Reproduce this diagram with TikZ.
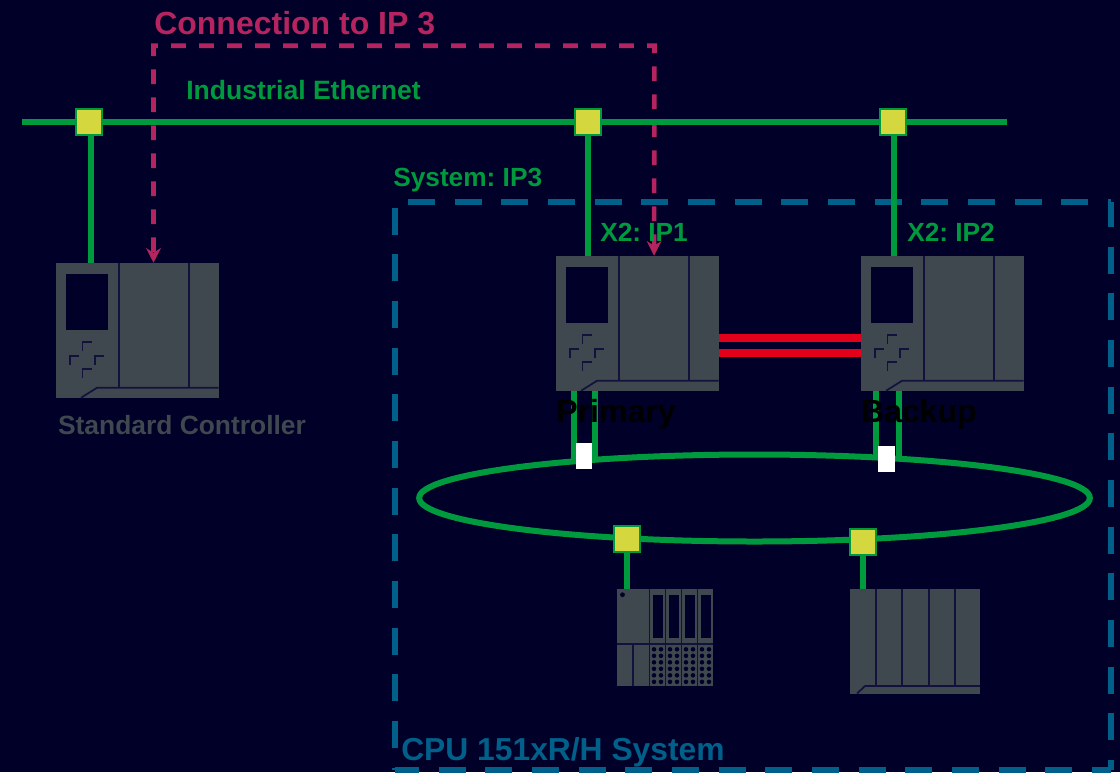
\documentclass[tikz,border=0pt]{standalone}
\usepackage{fontspec}
\setmainfont{Liberation Sans}
\usepackage{xcolor}
\usetikzlibrary{arrows.meta,positioning,shapes.geometric}
\definecolor{bgcol}{HTML}{000028}
\definecolor{buscol}{HTML}{009A3E}
\definecolor{portcol}{HTML}{D5D73F}
\definecolor{devcol}{HTML}{40484F}
\definecolor{linkcol}{HTML}{B5245F}
\definecolor{syscol}{HTML}{00608A}
\definecolor{redcol}{HTML}{E2001A}
\definecolor{seamcol}{HTML}{12123C}
\newcommand{\cpudetail}[1]{%
  \fill[bgcol] ([xshift=8pt,yshift=-8.25pt]#1.north west) rectangle ([xshift=39pt,yshift=-50.25pt]#1.north west);
  \draw[seam] ([xshift=47.25pt]#1.north west) -- ([xshift=47.25pt,yshift=-93.75pt]#1.north west);
  \draw[seam] ([xshift=99.75pt]#1.north west) -- ([xshift=99.75pt,yshift=-93.75pt]#1.north west);
  \draw[seam] ([xshift=122.25pt,yshift=-93.75pt]#1.north west) -- ([xshift=31pt,yshift=-93.75pt]#1.north west) -- ([xshift=19pt,yshift=-101.25pt]#1.north west);
  \foreach \mx/\my in {20/59.25,10.5/69.75,29.25/69.75,20/79.5}
    \draw[seam] ([xshift=\mx pt,yshift=-\my pt-7pt]#1.north west) |- ([xshift=\mx pt+7pt,yshift=-\my pt]#1.north west);
}
\begin{document}
\frenchspacing
\begin{tikzpicture}[x=0.75pt,y=-0.75pt,
  bus/.style={draw=buscol, line width=4.5pt},
  port/.style={draw=buscol, fill=portcol, line width=1.5pt, minimum size=19.5pt, inner sep=0pt},
  device/.style={fill=devcol, inner sep=0pt},
  seam/.style={draw=seamcol, line width=1.3pt},
  link/.style={draw=linkcol, line width=3.4pt, dash pattern=on 11pt off 10pt, dash phase=19.75pt, {Stealth[length=11pt,width=11pt]}-{Stealth[length=11pt,width=11pt]}},
  sysline/.style={draw=syscol, line width=4.5pt, dash pattern=on 20.25pt off 14.75pt},
  sync/.style={draw=redcol, line width=6pt},
  whitebox/.style={fill=white, inner sep=0pt, minimum width=12.5pt, minimum height=19.5pt},
  lbl/.style={font=\bfseries\fontsize{19.7}{24}\selectfont, text=buscol, inner sep=0pt, anchor=west}
]
\useasboundingbox (0,0) rectangle (1120,772);
\fill[bgcol] (0,0) rectangle (1120,772);
% devices
\node[device, minimum width=122.25pt, minimum height=101.25pt] (standard) at (137.5,330.5) {};
\node[device, minimum width=122.25pt, minimum height=101.25pt] (primary) at (637.5,323.5) {};
\node[device, minimum width=122.25pt, minimum height=101.25pt] (backup) at (942.5,323.5) {};
\cpudetail{standard}
\cpudetail{primary}
\cpudetail{backup}
\node[device, minimum width=72pt, minimum height=72.75pt] (iomod) at (665,637.5) {};
\draw[seam] (617,644) -- (713,644);
\draw[seam] (633,644) -- (633,686);
\foreach \sx in {649.5,665.5,681.5,697.5} {
  \draw[seam] (\sx,589) -- (\sx,686);
  \fill[bgcol] (\sx+3,595) rectangle (\sx+13.5,637.5);
  \foreach \dy in {649.3,655.8,662.3,668.8,675.3,681.8} {
    \fill[bgcol] (\sx+4.5,\dy) circle (1.7pt);
    \fill[bgcol] (\sx+11.5,\dy) circle (1.7pt);
  }
}
\fill[bgcol] (622.5,594.7) circle (1.8pt);
\node[device, minimum width=97.5pt, minimum height=78.75pt] (rack) at (915,641.5) {};
\foreach \sx in {875.7,902.3,928.7,955}
  \draw[seam] (\sx,589) -- (\sx,686);
\draw[seam] (980,686) -- (865,686) -- (857,693.5);
% connection
\draw[link] ([xshift=12pt]standard.north) -- ++(0,-217) -- ++(501,0) -- ([xshift=12.4pt]primary.north);
% system frame
\coordinate (tl) at (395,202);
\coordinate (tr) at (1111,202);
\coordinate (bl) at (395,770);
\coordinate (br) at (1111,770);
\draw[sysline, dash phase=25.3pt] (tl) -- (tr);
\draw[sysline, dash phase=1.5pt] (tr) -- (br);
\draw[sysline, dash phase=2.25pt] (bl) -- (br);
\draw[sysline, dash phase=18.5pt] (bl) -- (tl);
% ring and ports
\node[ellipse, draw=buscol, line width=4.5pt, minimum width=503pt, minimum height=65.25pt, inner sep=0pt] (ring) at (754.5,498) {};
\node[port] (sw1) at (89,122) {};
\node[port] (sw2) at (588,122) {};
\node[port] (sw3) at (893,122) {};
\node[port] (sw4) at (627,539) {};
\node[port] (sw5) at (863,542) {};
\coordinate (busl) at (22,122);
\coordinate (busr) at (1007,122);
\draw[bus] (busl) -- (sw1);
\draw[bus] (sw1) -- (sw2);
\draw[bus] (sw2) -- (sw3);
\draw[bus] (sw3) -- (busr);
\draw[bus] ([xshift=1.5pt]sw1.south) -- ([xshift=1.5pt]sw1.south |- standard.north);
\draw[bus] (sw2) -- (sw2 |- primary.north);
\draw[bus] ([xshift=0.75pt]sw3.south) -- ([xshift=0.75pt]sw3.south |- backup.north);
\draw[bus] (sw4) -- (sw4 |- iomod.north);
\draw[bus] (sw5) -- (sw5 |- rack.north);
\coordinate (pa) at (573.5,462);
\coordinate (pb) at (595,459);
\coordinate (ba) at (876,457);
\coordinate (bb) at (899,459);
\draw[bus] (pa |- primary.south) -- (pa);
\draw[bus] (pb |- primary.south) -- (pb);
\draw[bus] (ba |- backup.south) -- (ba);
\draw[bus] (bb |- backup.south) -- (bb);
\node[whitebox] (wp) at (584,456) {};
\node[whitebox] (wb) at (886.5,459) {};
% sync links
\draw[sync] (primary.east |- 0,338) -- (backup.west |- 0,338);
\draw[sync] (primary.east |- 0,353) -- (backup.west |- 0,353);
% labels
\node[font=\bfseries\fontsize{24}{28}\selectfont, text=linkcol, inner sep=0pt, anchor=west] (conlbl) at (154,23) {Connection to IP 3};
\node[lbl, font=\bfseries\fontsize{19.9}{24}\selectfont] (buslbl) at (186,90) {Industrial Ethernet};
\node[lbl] (syslbl) at (393,180) {System: IP3};
\node[lbl] (ip1) at (600,232) {X2: IP1};
\node[lbl] (ip2) at (907,232) {X2: IP2};
\node[font=\bfseries\fontsize{19.8}{24}\selectfont, text=devcol, inner sep=0pt] (stdlbl) at (182,425) {Standard Controller};
\node[font=\bfseries\fontsize{24}{28}\selectfont, text=black, inner sep=0pt] (primlbl) at (616,414) {Primary};
\node[font=\bfseries\fontsize{24}{28}\selectfont, text=black, inner sep=0pt] (backlbl) at (919,414) {Backup};
\node[font=\bfseries\fontsize{23.85}{28}\selectfont, text=syscol, inner sep=0pt, anchor=west] (cpulbl) at (401,752) {CPU 151xR/H System};
\end{tikzpicture}
\end{document}
